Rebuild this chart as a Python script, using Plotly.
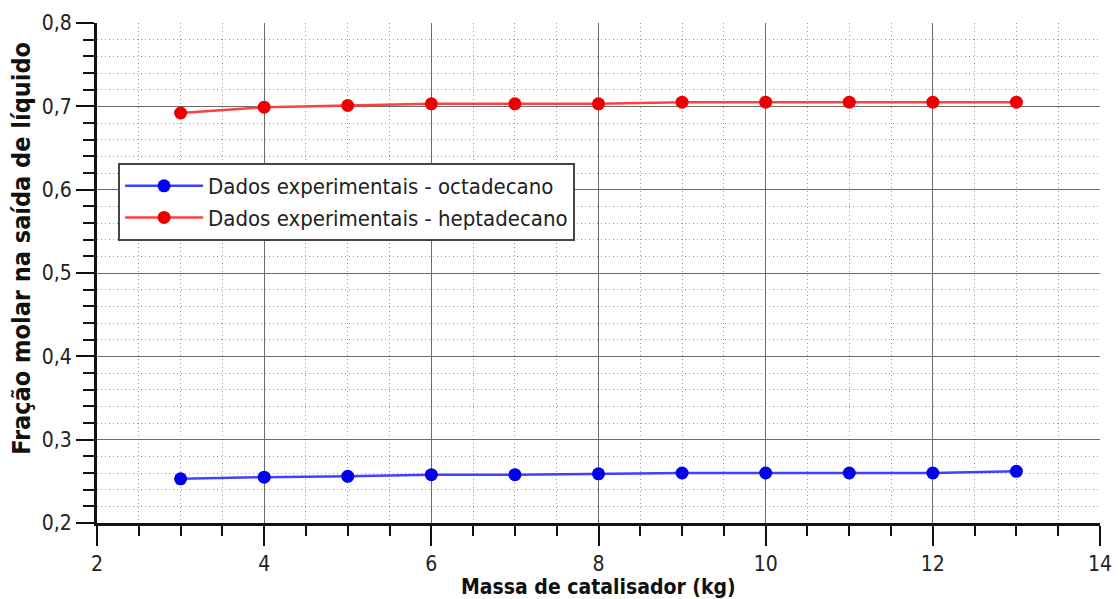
import plotly.graph_objects as go

massa = [3, 4, 5, 6, 7, 8, 9, 10, 11, 12, 13]
octadecano = [0.253, 0.255, 0.256, 0.258, 0.258, 0.259, 0.260, 0.260, 0.260, 0.260, 0.262]
heptadecano = [0.692, 0.699, 0.701, 0.703, 0.703, 0.703, 0.705, 0.705, 0.705, 0.705, 0.705]

x_ticks = [2, 4, 6, 8, 10, 12, 14]
y_ticks = [0.2, 0.3, 0.4, 0.5, 0.6, 0.7, 0.8]
y_labels = ["0,2", "0,3", "0,4", "0,5", "0,6", "0,7", "0,8"]

x_title = "Massa de catalisador (kg)"
y_title = "Fração molar na saída de líquido"

font_family = "DejaVu Sans Condensed, DejaVu Sans, sans-serif"

fig = go.Figure()
fig.add_trace(go.Scatter(
    x=massa, y=octadecano, mode="lines+markers",
    name="Dados experimentais - octadecano",
    line=dict(color="#4040ff", width=2.5),
    marker=dict(color="#0000ee", size=13),
))
fig.add_trace(go.Scatter(
    x=massa, y=heptadecano, mode="lines+markers",
    name="Dados experimentais - heptadecano",
    line=dict(color="#ff4040", width=2.5),
    marker=dict(color="#ee0000", size=13),
))

minor_grid = dict(showgrid=True, gridcolor="#9a9a9a", griddash="1px,3px", gridwidth=1)

fig.update_layout(
    width=1120, height=599,
    margin=dict(l=89, r=28, t=15, b=84),
    paper_bgcolor="white", plot_bgcolor="white",
    font=dict(family=font_family, size=20, color="#222222"),
    showlegend=True,
    legend=dict(
        x=0.021, y=0.72, xanchor="left", yanchor="top",
        bgcolor="white", bordercolor="#444444", borderwidth=2,
        font=dict(family=font_family, size=22, color="#222222"),
        itemwidth=78, tracegroupgap=0,
    ),
    xaxis=dict(
        range=[2, 14], tickvals=x_ticks, ticktext=[str(v) for v in x_ticks],
        automargin=False,
        showline=True, linecolor="#111111", linewidth=3,
        ticks="outside", ticklen=20, tickwidth=2, tickcolor="#111111",
        showgrid=True, gridcolor="#6a6a6a", gridwidth=1,
        zeroline=False,
        minor=dict(dtick=0.5, ticks="outside", ticklen=10, tickwidth=2,
                   tickcolor="#111111", **minor_grid),
        tickfont=dict(family=font_family, size=21, color="#222222"),
    ),
    yaxis=dict(
        range=[0.2, 0.8], tickvals=y_ticks, ticktext=y_labels,
        automargin=False,
        showline=True, linecolor="#111111", linewidth=3,
        ticks="outside", ticklen=18, tickwidth=2, tickcolor="#111111",
        showgrid=True, gridcolor="#6a6a6a", gridwidth=1,
        zeroline=False,
        minor=dict(dtick=0.02, ticks="outside", ticklen=11, tickwidth=2,
                   tickcolor="#111111", **minor_grid),
        tickfont=dict(family=font_family, size=21, color="#222222"),
    ),
    annotations=[
        dict(text="<b>" + x_title + "</b>", xref="paper", yref="paper",
             x=0.5, y=-0.127, xanchor="center", yanchor="middle", showarrow=False,
             font=dict(family=font_family, size=21, color="#111111")),
        dict(text="<b>" + y_title + "</b>", xref="paper", yref="paper",
             x=-0.075, y=0.55, xanchor="center", yanchor="middle", showarrow=False,
             textangle=-90,
             font=dict(family=font_family, size=25, color="#111111")),
    ],
)

fig.write_html("out.html")
